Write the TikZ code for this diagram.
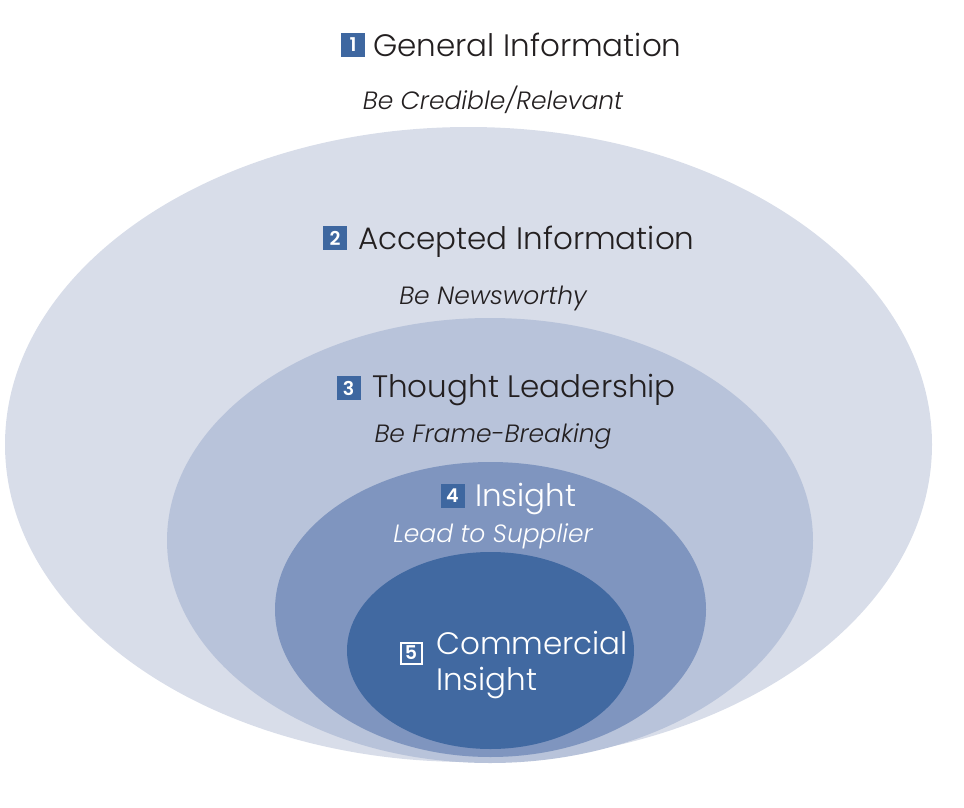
\documentclass[tikz,border=0pt]{standalone}
\usepackage{fontspec}
\setmainfont{Poppins}[UprightFont=* Light, ItalicFont=* Light Italic, BoldFont=* SemiBold]
\definecolor{c1}{HTML}{D8DDE9}
\definecolor{c2}{HTML}{B8C3DA}
\definecolor{c3}{HTML}{7F95BF}
\definecolor{c4}{HTML}{4169A1}
\definecolor{numblue}{HTML}{3E67A0}
\definecolor{txt}{HTML}{231F20}
\tikzset{
  numbox/.style={fill=numblue, text=white, minimum size=24pt, inner sep=0pt, font=\fontsize{19}{19}\selectfont\bfseries},
  numboxw/.style={draw=white, line width=2pt, text=white, minimum size=21pt, inner sep=0pt, font=\fontsize{19}{19}\selectfont\bfseries},
  title/.style={anchor=base west, inner sep=0pt, font=\fontsize{31}{31}\selectfont},
  sub/.style={anchor=base, inner sep=0pt, font=\fontsize{25}{25}\selectfont\itshape},
}
\begin{document}
\begin{tikzpicture}[x=1pt,y=-1pt]
\useasboundingbox (0,0) rectangle (964,808);
\fill[c1] (468.5,444.5) ellipse [x radius=463.5, y radius=317.5];
\fill[c2] (490,540.5) ellipse [x radius=323, y radius=222.5];
\fill[c3] (490.5,609.5) ellipse [x radius=215.5, y radius=147.5];
\fill[c4] (490.5,650.5) ellipse [x radius=143.5, y radius=98.5];

\node[numbox] (n1) at (353,45) {1};
\node[title, text=txt] (t1) at (373,57) {General Information};
\node[sub, text=txt] (s1) at (493,110) {Be Credible/Relevant};

\node[numbox] (n2) at (335,238) {2};
\node[title, text=txt] (t2) at (358,249) {Accepted Information};
\node[sub, text=txt] (s2) at (493,304) {Be Newsworthy};

\node[numbox] (n3) at (348.5,388) {3};
\node[title, text=txt] (t3) at (372,397) {Thought Leadership};
\node[sub, text=txt] (s3) at (493,442) {Be Frame-Breaking};

\node[numbox] (n4) at (452.5,496) {4};
\node[title, text=white] (t4) at (475,506) {Insight};
\node[sub, text=white] (s4) at (493,542) {Lead to Supplier};

\node[numboxw] (n5) at (411,653) {5};
\node[title, text=white] (t5a) at (436,654) {Commercial};
\node[title, text=white] (t5b) at (436,690) {Insight};
\end{tikzpicture}
\end{document}
